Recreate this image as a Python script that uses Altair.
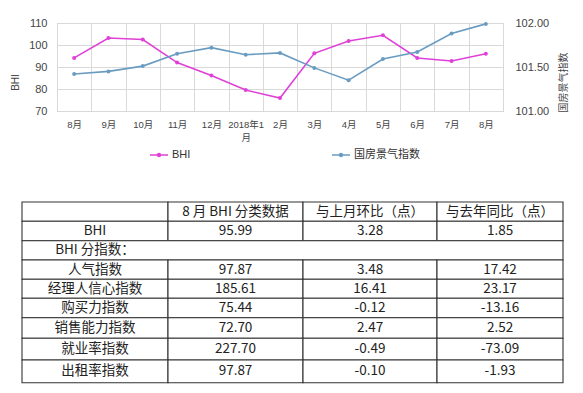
import json
import altair as alt
import pandas as pd

# ---------------- data ----------------
MONTHS = ["8月", "9月", "10月", "11月", "12月", "2018年1月", "2月", "3月",
          "4月", "5月", "6月", "7月", "8月"]
BHI = [94.14, 103.2, 102.5, 92.0, 86.1, 79.5, 75.9, 96.2, 101.8, 104.4, 94.1, 92.71, 95.99]
GF = [101.42, 101.45, 101.51, 101.65, 101.72, 101.64, 101.66, 101.49, 101.35,
      101.59, 101.67, 101.88, 101.99]
SERIES = ["BHI", "国房景气指数"]
COLORS = ["#e040d8", "#6a9cc2"]

HEADER = ["", "8 月 BHI 分类数据", "与上月环比（点）", "与去年同比（点）"]
ROW_NAMES = ["BHI", "BHI 分指数：", "人气指数", "经理人信心指数", "购买力指数",
             "销售能力指数", "就业率指数", "出租率指数"]
COL_AUG = ["95.99", None, "97.87", "185.61", "75.44", "72.70", "227.70", "97.87"]
COL_MOM = ["3.28", None, "3.48", "16.41", "-0.12", "2.47", "-0.49", "-0.10"]
COL_YOY = ["1.85", None, "17.42", "23.17", "-13.16", "2.52", "-73.09", "-1.93"]

# ---------------- layout constants (table grid, px) ----------------
COL_EDGES = [0, 146, 281, 415, 541]
ROW_EDGES = [0, 19.3, 38.7, 58, 77.3, 96.3, 115.7, 136.3, 158, 180.7]

FONT = "Liberation Sans, Noto Sans CJK SC"
TFONT = "Noto Sans CJK SC"

df = pd.DataFrame({"idx": list(range(len(MONTHS))), "bhi": BHI, "gf": GF})

label_arr = [["2018年1", "月"] if m == "2018年1月" else m for m in MONTHS]
label_expr = json.dumps(label_arr, ensure_ascii=False) + "[datum.value]"

color_scale = alt.Scale(domain=SERIES, range=COLORS)
legend = alt.Legend(
    orient="none", legendX=92, legendY=122, direction="horizontal", title=None,
    symbolType="M-1,0H1M0.16,0A0.16,0.16,0,1,1,-0.16,0A0.16,0.16,0,1,1,0.16,0Z",
    symbolSize=324, symbolStrokeWidth=1.5, labelFontSize=11, labelColor="#333",
    labelFont=FONT, columnPadding=138, labelOffset=3, padding=0,
)

xscale = alt.Scale(type="band", paddingInner=0, paddingOuter=0)
x_main = alt.X(
    "idx:O", scale=xscale,
    axis=alt.Axis(title=None, labelExpr=label_expr, labelAngle=0, tickBand="extent",
                  grid=True, gridColor="#d9d9d9", ticks=False, domain=False,
                  labelFontSize=9.5, labelColor="#444", labelPadding=8,
                  labelLineHeight=13, labelFont=FONT),
)
x_none = alt.X("idx:O", scale=xscale, axis=None)

bhi = alt.Chart(df).transform_calculate(series="'BHI'").mark_line(
    strokeWidth=1.6, point=alt.OverlayMarkDef(filled=True, size=16)
).encode(
    x=x_main,
    y=alt.Y("bhi:Q", scale=alt.Scale(domain=[70, 110], nice=False, zero=False),
            axis=alt.Axis(values=[70, 80, 90, 100, 110], title="BHI", orient="left",
                          grid=True, gridColor="#d9d9d9", ticks=False, domain=False,
                          labelFontSize=11, labelColor="#444", labelPadding=10,
                          labelFont=FONT, titleFont=FONT, titleFontSize=10,
                          titleFontWeight="normal", titleColor="#444",
                          titlePadding=8, titleY=59)),
    color=alt.Color("series:N", scale=color_scale, legend=legend),
)

gf = alt.Chart(df).transform_calculate(series="'国房景气指数'").mark_line(
    strokeWidth=1.6, point=alt.OverlayMarkDef(filled=True, size=16)
).encode(
    x=x_none,
    y=alt.Y("gf:Q", scale=alt.Scale(domain=[101, 102], nice=False, zero=False),
            axis=alt.Axis(values=[101, 101.5, 102], format=".2f", title="国房景气指数",
                          orient="right", grid=False, ticks=False, domain=False,
                          labelFontSize=11, labelColor="#444", labelPadding=12,
                          labelFont=FONT, titleFont=FONT, titleFontSize=10,
                          titleFontWeight="normal", titleColor="#444",
                          titleAngle=270, titlePadding=20, titleY=59)),
    color=alt.Color("series:N", scale=color_scale, legend=legend),
)

# ---------------- table ----------------
rows = [HEADER] + [[n, a, m, y] for n, a, m, y in zip(ROW_NAMES, COL_AUG, COL_MOM, COL_YOY)]
cells = []
for r, row in enumerate(rows):
    merged = all(v is None for v in row[1:])
    if merged:
        cells.append(dict(x=COL_EDGES[0], x2=COL_EDGES[-1], xm=(COL_EDGES[0] + COL_EDGES[1]) / 2,
                          y=ROW_EDGES[r], y2=ROW_EDGES[r + 1],
                          ym=(ROW_EDGES[r] + ROW_EDGES[r + 1]) / 2, text=row[0]))
        continue
    for c, v in enumerate(row):
        cells.append(dict(x=COL_EDGES[c], x2=COL_EDGES[c + 1],
                          xm=(COL_EDGES[c] + COL_EDGES[c + 1]) / 2,
                          y=ROW_EDGES[r], y2=ROW_EDGES[r + 1],
                          ym=(ROW_EDGES[r] + ROW_EDGES[r + 1]) / 2, text=v))
tdf = pd.DataFrame(cells)

tx = alt.Scale(domain=[0, COL_EDGES[-1]], range=[-35, -35 + COL_EDGES[-1]], nice=False, zero=False)
ty = alt.Scale(domain=[0, ROW_EDGES[-1]], range=[179, 179 + ROW_EDGES[-1]], nice=False, zero=False)

table_rect = alt.Chart(tdf).mark_rect(fill="white", stroke="#333", strokeWidth=1.1).encode(
    x=alt.X("x:Q", scale=tx, axis=None), x2="x2:Q",
    y=alt.Y("y:Q", scale=ty, axis=None), y2="y2:Q",
)
table_text = alt.Chart(tdf).mark_text(
    font=TFONT, fontSize=13.5, color="#222", baseline="middle", align="center"
).encode(
    x=alt.X("xm:Q", scale=tx, axis=None),
    y=alt.Y("ym:Q", scale=ty, axis=None),
    text="text:N",
)

chart = alt.layer(bhi, gf, table_rect, table_text).resolve_scale(
    x="independent", y="independent"
).properties(
    width=446, height=88,
    padding={"left": 49, "top": 15, "right": 72, "bottom": 274},
    autosize="none", background="white",
).configure_view(stroke="#bfbfbf", strokeWidth=1)

chart.save("out.html", embed_options={"renderer": "svg", "actions": False})
